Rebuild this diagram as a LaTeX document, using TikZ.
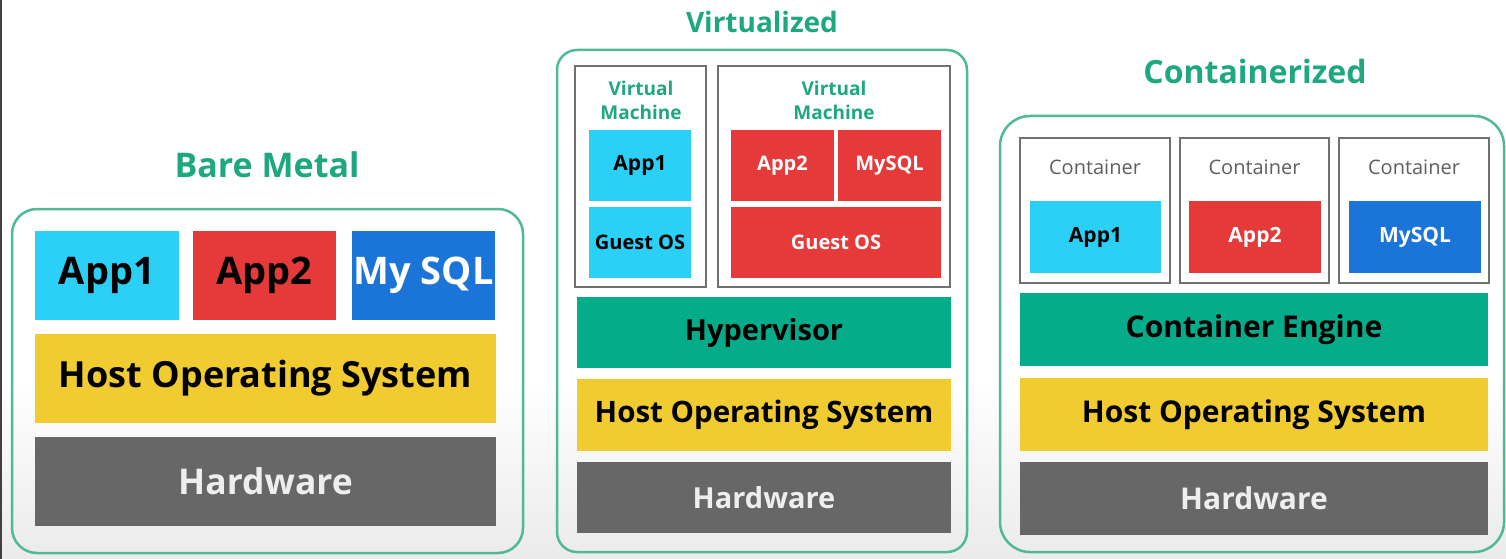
\documentclass[tikz,border=0pt]{standalone}
\usepackage{fontspec}
\setmainfont{Open Sans}
\usetikzlibrary{positioning}

\definecolor{titlegreen}{RGB}{30,168,128}
\definecolor{framegreen}{RGB}{80,185,150}
\definecolor{appone}{RGB}{42,208,245}
\definecolor{apptwo}{RGB}{230,57,57}
\definecolor{sqlblue}{RGB}{27,116,216}
\definecolor{osyellow}{RGB}{240,204,48}
\definecolor{hwgray}{RGB}{102,103,102}
\definecolor{hypgreen}{RGB}{5,172,137}
\definecolor{boxgray}{RGB}{112,112,112}
\definecolor{hwtext}{RGB}{238,238,238}

\newcommand{\fsz}[1]{\fontsize{#1}{#1}\selectfont\bfseries}

\begin{document}
\begin{tikzpicture}[x=1pt, y=-1pt,
  blk/.style={draw=none, inner sep=0pt, align=center},
  panel/.style={draw=framegreen, line width=2.5pt},
  shell/.style={draw=boxgray, line width=2pt, inner sep=0pt},
  title/.style={text=titlegreen, inner sep=0pt}]
\useasboundingbox (0,0) rectangle (1506,559);
\fill[white] (0,0) rectangle (1506,380);
\shade[top color=white, bottom color=black!8] (0,380) rectangle (1506,559);
\fill[black!75] (0,0) rectangle (1.6,559);

% bare metal
\draw[panel, rounded corners=25pt] (12,209) rectangle (523,553);
\node[title, font=\fsz{34}] (bm-title) at (267,165) {Bare Metal};
\node[blk, fill=appone, minimum width=144, minimum height=89, font=\fsz{38}] (bm-app1) at (107,275.5) {App1};
\node[blk, fill=apptwo, minimum width=143, minimum height=89, font=\fsz{38}] (bm-app2) at (264.5,275.5) {App2};
\node[blk, fill=sqlblue, minimum width=143, minimum height=89, font=\fsz{38}, text=white] (bm-sql) at (423.5,275.5) {My SQL};
\node[blk, fill=osyellow, minimum width=461, minimum height=89, font=\fsz{36}] (bm-os) at (265.5,378.5) {Host Operating System};
\node[blk, fill=hwgray, minimum width=461, minimum height=89, font=\fsz{35.5}, text=hwtext] (bm-hw) at (265.5,481.5) {Hardware};

% virtualized
\draw[panel, rounded corners=20pt] (557,50) rectangle (967,552);
\node[title, font=\fsz{28}] (v-title) at (762,22) {Virtualized};
\node[shell, minimum width=131, minimum height=221] (vm1) at (640.5,176.5) {};
\node[shell, minimum width=232, minimum height=221] (vm2) at (834,176.5) {};
\node[blk, text=titlegreen, font={\fontsize{19}{24}\selectfont\bfseries}] (vm1-lbl) at (641,100) {Virtual\\Machine};
\node[blk, text=titlegreen, font={\fontsize{19}{24}\selectfont\bfseries}] (vm2-lbl) at (834,100) {Virtual\\Machine};
\node[blk, fill=appone, minimum width=102, minimum height=71, font=\fsz{21}] (v-app1) at (640,165.5) {App1};
\node[blk, fill=appone, minimum width=102, minimum height=71, font=\fsz{20}] (v-gos1) at (640,242.5) {Guest OS};
\node[blk, fill=apptwo, minimum width=103, minimum height=71, font=\fsz{20}, text=white] (v-app2) at (782.5,165.5) {App2};
\node[blk, fill=apptwo, minimum width=103, minimum height=71, font=\fsz{20}, text=white] (v-sql) at (889.5,165.5) {MySQL};
\node[blk, fill=apptwo, minimum width=210, minimum height=71, font=\fsz{20}, text=white] (v-gos2) at (836,242.5) {Guest OS};
\node[blk, fill=hypgreen, minimum width=374, minimum height=71, font=\fsz{29}] (v-hyp) at (764,332.5) {Hypervisor};
\node[blk, fill=osyellow, minimum width=374, minimum height=72, font=\fsz{29.5}] (v-os) at (764,415) {Host Operating System};
\node[blk, fill=hwgray, minimum width=374, minimum height=71, font=\fsz{29}, text=hwtext] (v-hw) at (764,497.5) {Hardware};

% containerized
\draw[panel, rounded corners=30pt] (1000,116) rectangle (1504,552);
\node[title, font=\fsz{32}] (c-title) at (1255,72) {Containerized};
\node[shell, minimum width=150, minimum height=145] (c1) at (1095,210.5) {};
\node[shell, minimum width=149, minimum height=145] (c2) at (1254.5,210.5) {};
\node[shell, minimum width=150, minimum height=145] (c3) at (1414,210.5) {};
\foreach \n/\x in {c1/1095, c2/1254.5, c3/1414}
  \node[blk, text=boxgray!85!black, font={\fontsize{20}{20}\selectfont}] (\n-lbl) at (\x,167) {Container};
\node[blk, fill=appone, minimum width=131, minimum height=72, font=\fsz{21}] (c-app1) at (1095.5,237) {App1};
\node[blk, fill=apptwo, minimum width=132, minimum height=72, font=\fsz{21}, text=white] (c-app2) at (1255,237) {App2};
\node[blk, fill=sqlblue, minimum width=132, minimum height=72, font=\fsz{21}, text=white] (c-sql) at (1415,237) {MySQL};
\node[blk, fill=hypgreen, minimum width=468, minimum height=73, font=\fsz{30}] (c-eng) at (1254,329.5) {Container Engine};
\node[blk, fill=osyellow, minimum width=468, minimum height=73, font=\fsz{30}] (c-os) at (1254,414.5) {Host Operating System};
\node[blk, fill=hwgray, minimum width=468, minimum height=73, font=\fsz{30}, text=hwtext] (c-hw) at (1254,498.5) {Hardware};
\end{tikzpicture}
\end{document}
